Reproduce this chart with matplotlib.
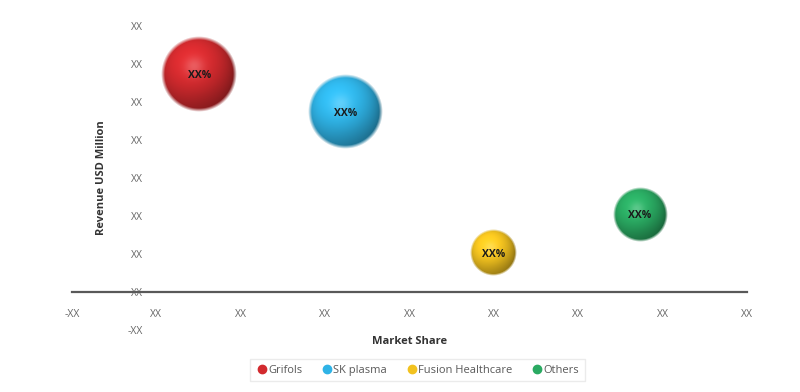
import numpy as np
import matplotlib
matplotlib.use("Agg")
import matplotlib.pyplot as plt
from matplotlib.colors import to_rgb
from matplotlib.offsetbox import OffsetImage, AnnotationBbox
from matplotlib.lines import Line2D

# ---- data ----
companies = ["Grifols", "SK plasma", "Fusion Healthcare", "Others"]
market_share = [0.51, 2.24, 3.99, 5.73]
revenue = [5.72, 4.73, 1.02, 2.03]
bubble_value = [14.4, 13.7, 5.3, 7.3]
bubble_labels = ["XX%", "XX%", "XX%", "XX%"]
x_ticks = [-1, 0, 1, 2, 3, 4, 5, 6, 7]
x_tick_labels = ["-XX", "XX", "XX", "XX", "XX", "XX", "XX", "XX", "XX"]
y_ticks = [-1, 0, 1, 2, 3, 4, 5, 6, 7]
y_tick_labels = ["-XX", "XX", "XX", "XX", "XX", "XX", "XX", "XX", "XX"]
colors = ["#d22a2e", "#2fb3e6", "#f2c21f", "#2aaa62"]

plt.rcParams['font.family'] = ['Open Sans', 'DejaVu Sans']


def sphere(color, n=256):
    rgb = np.array(to_rgb(color))
    yy, xx = np.mgrid[-1:1:n * 1j, -1:1:n * 1j]
    u, v = xx, -yy
    r = np.sqrt(u ** 2 + v ** 2)
    z = np.sqrt(np.clip(1 - r ** 2, 0, 1))
    L = np.array([-0.25, 0.4, 0.88])
    L = L / np.linalg.norm(L)
    diff = np.clip(u * L[0] + v * L[1] + z * L[2], 0, 1)
    shade = 0.55 + 0.55 * diff
    col = rgb[None, None, :] * shade[..., None]
    H = L + np.array([0, 0, 1.0])
    H = H / np.linalg.norm(H)
    spec = np.clip(u * H[0] + v * H[1] + z * H[2], 0, 1) ** 30
    col = col + 0.22 * spec[..., None] * (1 - col)
    rim = np.clip((r - 0.55) / 0.45, 0, 1) * np.clip(-v, 0, 1) * 0.35
    col = col + rim[..., None] * (rgb[None, None, :] * 1.05 - col)
    col = np.clip(col, 0, 1)
    alpha = np.clip((1 - r) / 0.10, 0, 1)
    return np.dstack([col, alpha])


fig = plt.figure(figsize=(8, 3.92), dpi=100)
ax = fig.add_axes([0.09, 0.158, 0.844, 0.776])
ax.set_xlim(-1, 7)
ax.set_ylim(-1, 7)

for s in ["top", "right"]:
    ax.spines[s].set_visible(False)
ax.spines["left"].set_position(("data", 0))
ax.spines["left"].set_visible(False)
ax.spines["bottom"].set_position(("data", 0))
ax.spines["bottom"].set_color("#595959")
ax.spines["bottom"].set_linewidth(1.6)

ax.set_xticks(x_ticks)
ax.set_xticklabels(x_tick_labels)
ax.set_yticks(y_ticks)
ax.set_yticklabels(y_tick_labels)
ax.tick_params(axis="both", length=0, labelsize=7.5, labelcolor="#666666")
ax.tick_params(axis="x", pad=12)
ax.tick_params(axis="y", pad=10)

n = 256
for xs, yv, val, c, lab in zip(market_share, revenue, bubble_value, colors, bubble_labels):
    diam = 2 * 10 * np.sqrt(val)
    oi = OffsetImage(sphere(c, n), zoom=diam / n, dpi_cor=False, interpolation="bilinear")
    ab = AnnotationBbox(oi, (xs, yv), frameon=False, pad=0, zorder=3)
    ax.add_artist(ab)
    ax.text(xs, yv - 0.03, lab, ha="center", va="center", fontsize=7.5, fontweight="bold",
            color="#1a1a1a", zorder=4)

ax.set_xlabel("Market Share", fontsize=8, fontweight="bold", color="#333333", va="center")
ax.xaxis.set_label_coords(0.5, -0.036)
ax.set_ylabel("Revenue USD Million", fontsize=8, fontweight="bold", color="#333333", va="center")
ax.yaxis.set_label_coords(0.043, 0.5)

handles = [Line2D([], [], marker="o", linestyle="none", markersize=6,
                  markerfacecolor=c, markeredgecolor=c) for c in colors]
leg = fig.legend(handles, companies, loc="center", bbox_to_anchor=(0.522, 0.056), ncol=4,
                 frameon=True, fancybox=False, edgecolor="#e6e6e6", fontsize=8,
                 handletextpad=0.1, columnspacing=1.7, handlelength=1.0, borderpad=0.5)
for t in leg.get_texts():
    t.set_color("#595959")

fig.savefig("out.png", dpi=100)
